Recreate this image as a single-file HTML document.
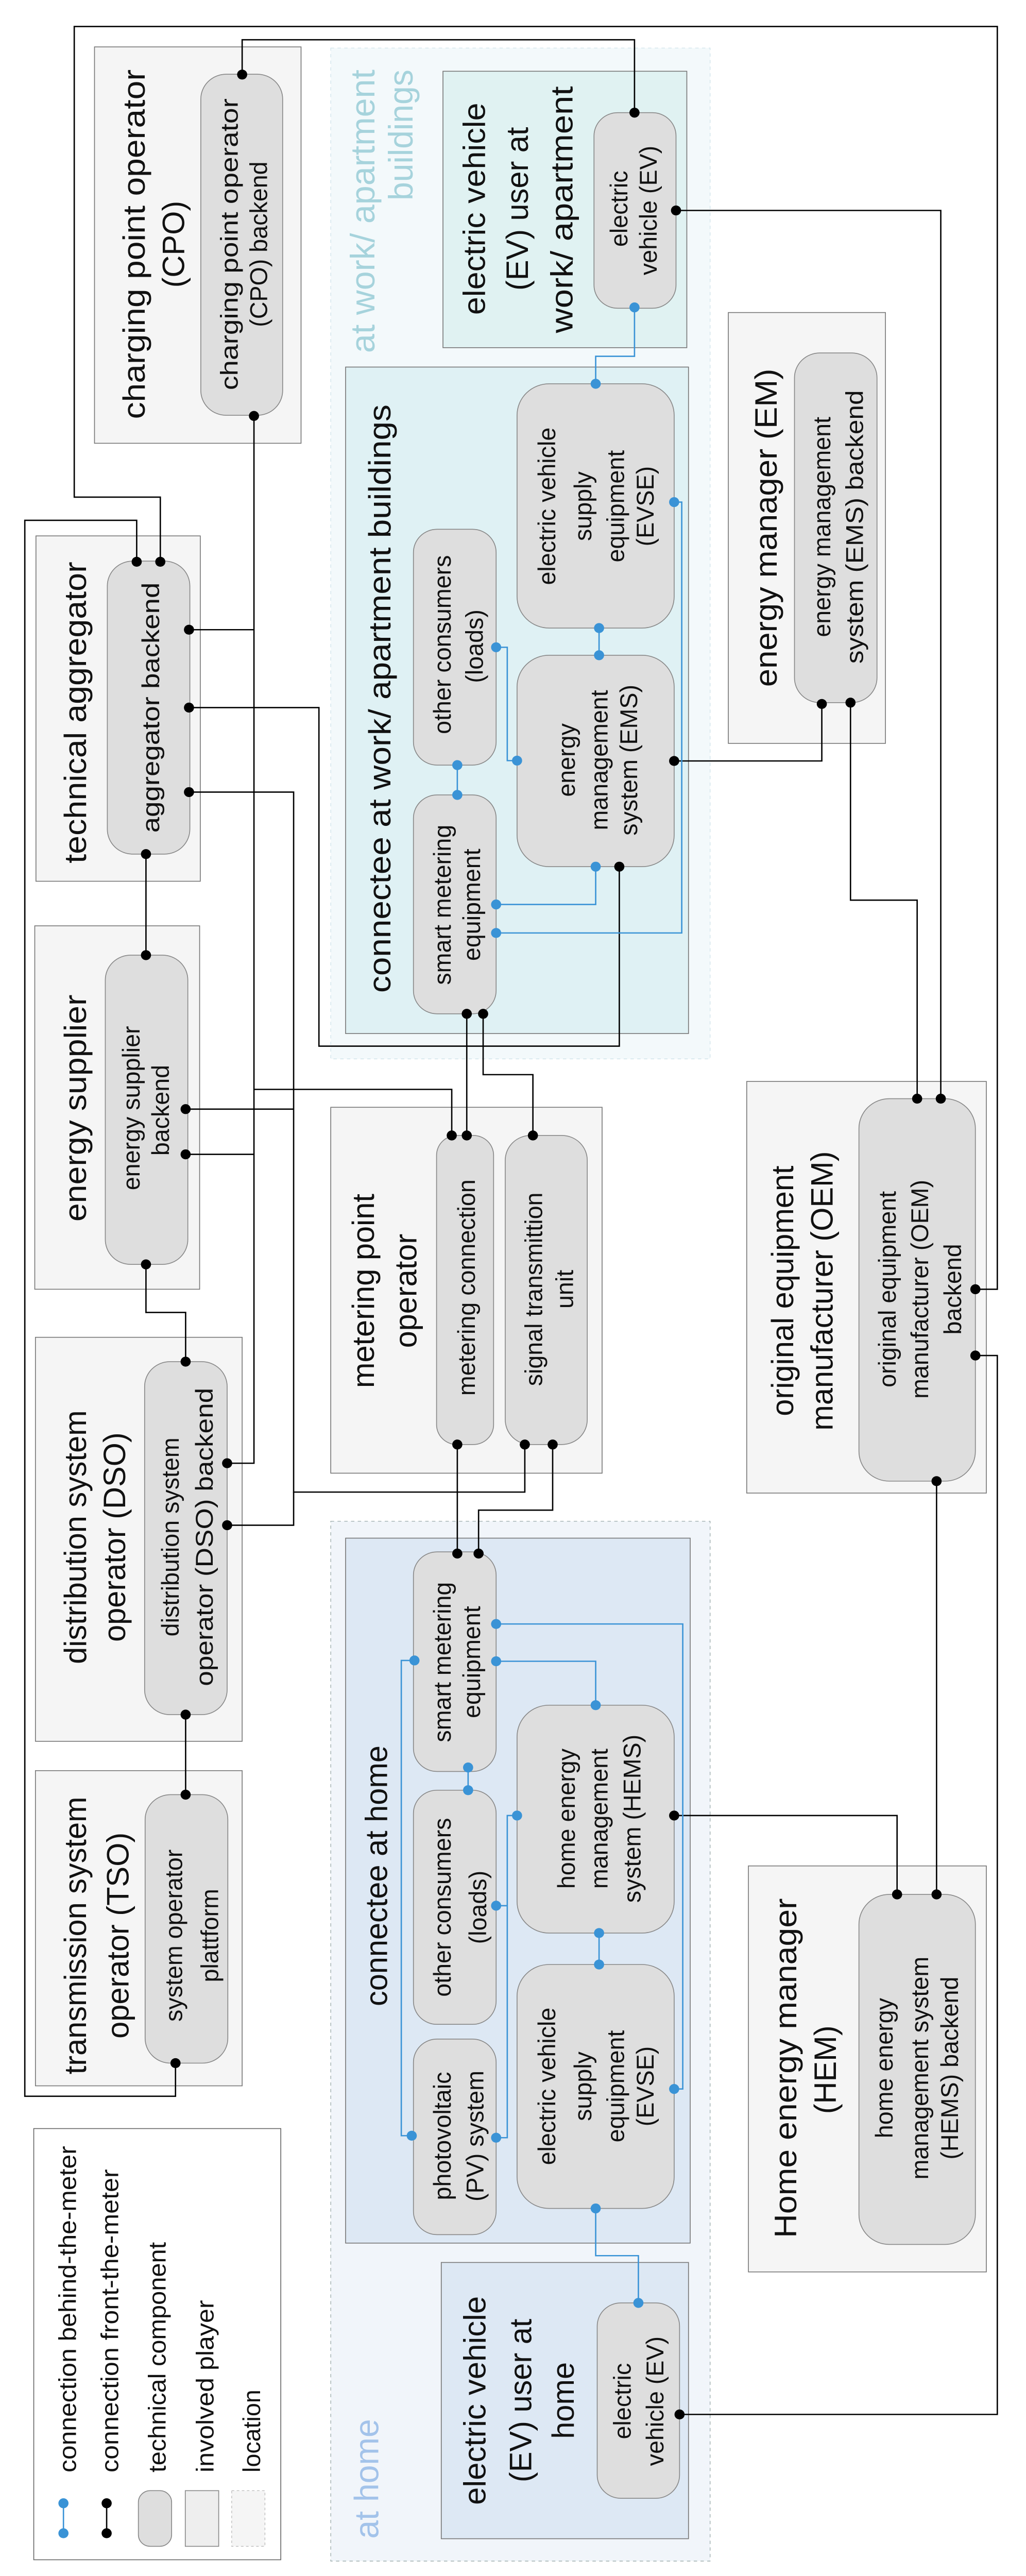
<!DOCTYPE html>
<html><head><meta charset="utf-8">
<style>
html,body{margin:0;padding:0;background:#fff;width:100%;height:100%;overflow:hidden;}
svg{display:block;position:fixed;left:0;top:0;width:100vw;height:100vh;}
text{font-family:"Liberation Sans","DejaVu Sans",sans-serif;fill:#111;}
.p{fill:#f5f5f5;stroke:#777;stroke-width:0.5}
.c{fill:#dedede;stroke:#888;stroke-width:0.5}
.k{stroke:#000;fill:none;stroke-width:0.8}
.b{stroke:#3a93d6;fill:none;stroke-width:0.8}
.kd{fill:#000}
.bd{fill:#3a93d6}
</style></head>
<body>
<svg viewBox="0 0 608 1554.5" preserveAspectRatio="none" xmlns="http://www.w3.org/2000/svg">
<rect x="0" y="0" width="608" height="1554.5" fill="#fff"/>

<rect x="196" y="29" width="224.8" height="610" fill="#f3f9fb" stroke="#cfe3ea" stroke-width="0.4" stroke-dasharray="2,2"/>
<rect x="196" y="918" width="224.8" height="627.5" fill="#f1f5fa" stroke="#9aa" stroke-width="0.4" stroke-dasharray="2,2"/>
<text transform="translate(215,42) rotate(-90)" text-anchor="end" dominant-baseline="central" font-size="20" style="fill:#a6d3dc" textLength="171" lengthAdjust="spacingAndGlyphs">at work/ apartment</text>
<text transform="translate(237.5,42) rotate(-90)" text-anchor="end" dominant-baseline="central" font-size="20" style="fill:#a6d3dc">buildings</text>
<text transform="translate(217.3,1532) rotate(-90)" text-anchor="start" dominant-baseline="central" font-size="20" style="fill:#a3c3ea">at home</text>

<rect class="p" x="56" y="28.3" width="122.4" height="239.2"/>
<rect class="p" x="262.5" y="43" width="144.5" height="166.8" style="fill:#e0f2f2"/>
<rect class="p" x="204.8" y="221.5" width="203.2" height="402.2" style="fill:#dff1f4"/>
<rect class="p" x="431.6" y="188.6" width="93.1" height="260"/>
<rect class="p" x="21.3" y="323.4" width="97.4" height="208.4"/>
<rect class="p" x="20.6" y="558.7" width="97.7" height="219.3"/>
<rect class="p" x="196" y="668.2" width="160.8" height="220.8"/>
<rect class="p" x="442.5" y="652.6" width="142" height="248.4"/>
<rect class="p" x="21" y="807" width="122.5" height="243.8"/>
<rect class="p" x="204.8" y="928.2" width="204.2" height="425.4" style="fill:#dde8f4"/>
<rect class="p" x="21" y="1068.5" width="122.5" height="190.2"/>
<rect class="p" x="443.5" y="1126" width="141" height="245"/>
<rect class="p" x="261.5" y="1365.3" width="146.5" height="166.7" style="fill:#dde8f4"/>
<rect x="20" y="1284.5" width="146.4" height="260.2" fill="#fff" stroke="#666" stroke-width="0.5"/>

<rect class="c" x="119" y="44.8" width="48.5" height="205.8" rx="15"/>
<rect class="c" x="352" y="68" width="48.6" height="118" rx="14"/>
<rect class="c" x="245" y="319.4" width="49" height="142.3" rx="14"/>
<rect class="c" x="245" y="479.7" width="49" height="132.1" rx="14"/>
<rect class="c" x="306.4" y="231.6" width="93.1" height="147.4" rx="19"/>
<rect class="c" x="306.4" y="395.4" width="93.1" height="127.6" rx="19"/>
<rect class="c" x="470.8" y="213" width="48.9" height="211" rx="15"/>
<rect class="c" x="63.6" y="338.6" width="48.9" height="176.8" rx="15"/>
<rect class="c" x="62.4" y="576.4" width="48.9" height="186.6" rx="15"/>
<rect class="c" x="258.7" y="685.2" width="33.8" height="186.5" rx="12"/>
<rect class="c" x="299.4" y="685.2" width="48.6" height="186.5" rx="15"/>
<rect class="c" x="509" y="663" width="69" height="230.8" rx="18"/>
<rect class="c" x="85.7" y="821.7" width="48.9" height="213" rx="15"/>
<rect class="c" x="245" y="936.5" width="49" height="132.5" rx="14"/>
<rect class="c" x="245" y="1080.3" width="49" height="141.3" rx="14"/>
<rect class="c" x="245" y="1230.5" width="49" height="118" rx="14"/>
<rect class="c" x="306.4" y="1029" width="93.1" height="137.5" rx="19"/>
<rect class="c" x="306.4" y="1185.5" width="93.1" height="147.2" rx="19"/>
<rect class="c" x="86" y="1083" width="49" height="162" rx="15"/>
<rect class="c" x="509" y="1143.2" width="69" height="211.2" rx="18"/>
<rect class="c" x="353.9" y="1389.7" width="48.8" height="117.9" rx="14"/>

<g class="k">
<polyline points="95,339 95,300 44,300 44,16 591,16 591,778 578,778"/>
<polyline points="143.5,45 143.5,24 376,24 376,68"/>
<polyline points="578,818 591,818 591,1457 402.7,1457"/>
<polyline points="400.6,127 557.5,127 557.5,663"/>
<polyline points="150.5,251 150.5,883 134.6,883"/>
<polyline points="81,339 81,314 14.7,314 14.7,1265 104,1265 104,1245"/>
<polyline points="112,380 150.5,380"/>
<polyline points="112,427 189,427 189,631.3 367,631.3 367,523"/>
<polyline points="112,478 174,478 174,900.4 311,900.4 311,871.7"/>
<polyline points="134.6,920.4 174,920.4 174,900.4"/>
<polyline points="86.5,515.4 86.5,576.4"/>
<polyline points="487,424.8 487,459.2 399.5,459.2"/>
<polyline points="504,424 504,543.2 543.5,543.2 543.5,663"/>
<polyline points="276.6,611.8 276.6,685.2"/>
<polyline points="286.3,611.8 286.3,648.5 315.8,648.5 315.8,685.2"/>
<polyline points="110,669.3 174,669.3"/>
<polyline points="110,696.6 150.5,696.6"/>
<polyline points="150.5,657.4 267.7,657.4 267.7,685.2"/>
<polyline points="86.5,763 86.5,792 110,792 110,821.7"/>
<polyline points="110,1034.7 110,1083"/>
<polyline points="271,871.7 271,937.5"/>
<polyline points="327.5,871.7 327.5,911.3 283.6,911.3 283.6,937.5"/>
<polyline points="399.5,1095.6 531.6,1095.6 531.6,1143.2"/>
<polyline points="555,893.8 555,1143.2"/>
<polyline points="63.2,1510.6 63.2,1528.7"/>
</g>
<g class="kd">
<circle cx="95" cy="339" r="3"/><circle cx="578" cy="778" r="3"/><circle cx="143.5" cy="45" r="3"/><circle cx="376" cy="68" r="3"/>
<circle cx="578" cy="818" r="3"/><circle cx="402.7" cy="1457" r="3"/><circle cx="400.6" cy="127" r="3"/><circle cx="557.5" cy="663" r="3"/>
<circle cx="150.5" cy="251" r="3"/><circle cx="134.6" cy="883" r="3"/><circle cx="81" cy="339" r="3"/><circle cx="104" cy="1245" r="3"/>
<circle cx="112" cy="380" r="3"/><circle cx="112" cy="427" r="3"/><circle cx="367" cy="523" r="3"/><circle cx="112" cy="478" r="3"/>
<circle cx="311" cy="871.7" r="3"/><circle cx="134.6" cy="920.4" r="3"/><circle cx="86.5" cy="515.4" r="3"/><circle cx="86.5" cy="576.4" r="3"/>
<circle cx="487" cy="424.8" r="3"/><circle cx="399.5" cy="459.2" r="3"/><circle cx="504" cy="424" r="3"/><circle cx="543.5" cy="663" r="3"/>
<circle cx="276.6" cy="611.8" r="3"/><circle cx="276.6" cy="685.2" r="3"/><circle cx="286.3" cy="611.8" r="3"/><circle cx="315.8" cy="685.2" r="3"/>
<circle cx="110" cy="669.3" r="3"/><circle cx="110" cy="696.6" r="3"/><circle cx="267.7" cy="685.2" r="3"/><circle cx="86.5" cy="763" r="3"/>
<circle cx="110" cy="821.7" r="3"/><circle cx="110" cy="1034.7" r="3"/><circle cx="110" cy="1083" r="3"/><circle cx="271" cy="871.7" r="3"/>
<circle cx="271" cy="937.5" r="3"/><circle cx="327.5" cy="871.7" r="3"/><circle cx="283.6" cy="937.5" r="3"/><circle cx="399.5" cy="1095.6" r="3"/>
<circle cx="531.6" cy="1143.2" r="3"/><circle cx="555" cy="893.8" r="3"/><circle cx="555" cy="1143.2" r="3"/>
<circle cx="63.2" cy="1510.6" r="3"/><circle cx="63.2" cy="1528.7" r="3"/>
</g>

<g class="b">
<polyline points="376,185.5 376,215 353,215 353,231.6"/>
<polyline points="355,379 355,395.4"/>
<polyline points="399.5,303 404,303 404,563 294,563"/>
<polyline points="294,390.6 300.6,390.6 300.6,459 306.4,459"/>
<polyline points="271,461.7 271,479.7"/>
<polyline points="353,523 353,545.8 294,545.8"/>
<polyline points="245.6,1002 237.8,1002 237.8,1288.8 244,1288.8"/>
<polyline points="294,980 404.6,980 404.6,1260.6 399.5,1260.6"/>
<polyline points="294,1002.5 353,1002.5 353,1029"/>
<polyline points="277.4,1066.6 277.4,1080.3"/>
<polyline points="294,1150 300.6,1150"/>
<polyline points="306.4,1095.6 300.6,1095.6 300.6,1290 294,1290"/>
<polyline points="355,1166.5 355,1185.5"/>
<polyline points="353,1332.7 353,1361.2 378.3,1361.2 378.3,1389.7"/>
<polyline points="37.6,1510.6 37.6,1528.7"/>
</g>
<g class="bd">
<circle cx="376" cy="185.5" r="3"/><circle cx="353" cy="231.6" r="3"/><circle cx="355" cy="379" r="3"/><circle cx="355" cy="395.4" r="3"/>
<circle cx="399.5" cy="303" r="3"/><circle cx="294" cy="563" r="3"/><circle cx="294" cy="390.6" r="3"/><circle cx="306.4" cy="459" r="3"/>
<circle cx="271" cy="461.7" r="3"/><circle cx="271" cy="479.7" r="3"/><circle cx="353" cy="523" r="3"/><circle cx="294" cy="545.8" r="3"/>
<circle cx="245.6" cy="1002" r="3"/><circle cx="244" cy="1288.8" r="3"/><circle cx="294" cy="980" r="3"/><circle cx="399.5" cy="1260.6" r="3"/>
<circle cx="294" cy="1002.5" r="3"/><circle cx="353" cy="1029" r="3"/><circle cx="277.4" cy="1066.6" r="3"/><circle cx="277.4" cy="1080.3" r="3"/>
<circle cx="294" cy="1150" r="3"/><circle cx="306.4" cy="1095.6" r="3"/><circle cx="294" cy="1290" r="3"/>
<circle cx="355" cy="1166.5" r="3"/><circle cx="355" cy="1185.5" r="3"/><circle cx="353" cy="1332.7" r="3"/><circle cx="378.3" cy="1389.7" r="3"/>
<circle cx="37.6" cy="1510.6" r="3"/><circle cx="37.6" cy="1528.7" r="3"/>
</g>

<rect x="82" y="1503" width="19.7" height="33.6" rx="7" fill="#dedede" stroke="#888" stroke-width="0.5"/>
<rect x="109.8" y="1503" width="19.8" height="33.6" fill="#eeeeee" stroke="#888" stroke-width="0.5"/>
<rect x="137.3" y="1503" width="19.7" height="33.6" fill="#f5f5f5" stroke="#bbb" stroke-width="0.4" stroke-dasharray="1.5,1.5"/>

<g dominant-baseline="central" text-anchor="middle">
<g font-size="18.5">
<text transform="translate(79.5,147.4) rotate(-90)" textLength="211" lengthAdjust="spacingAndGlyphs">charging point operator</text>
<text transform="translate(102.8,147.4) rotate(-90)">(CPO)</text>
<text transform="translate(281,126) rotate(-90)" textLength="128" lengthAdjust="spacingAndGlyphs">electric vehicle</text>
<text transform="translate(306.5,126) rotate(-90)">(EV) user at</text>
<text transform="translate(333,126.5) rotate(-90)" textLength="149" lengthAdjust="spacingAndGlyphs">work/ apartment</text>
<text transform="translate(225,421.6) rotate(-90)" textLength="355" lengthAdjust="spacingAndGlyphs">connectee at work/ apartment buildings</text>
<text transform="translate(454,318.5) rotate(-90)" textLength="192" lengthAdjust="spacingAndGlyphs">energy manager (EM)</text>
<text transform="translate(44.6,430) rotate(-90)" textLength="182" lengthAdjust="spacingAndGlyphs">technical aggregator</text>
<text transform="translate(44.6,668.7) rotate(-90)" textLength="137" lengthAdjust="spacingAndGlyphs">energy supplier</text>
<text transform="translate(215.3,779) rotate(-90)">metering point</text>
<text transform="translate(240.5,779) rotate(-90)">operator</text>
<text transform="translate(463.7,779) rotate(-90)">original equipment</text>
<text transform="translate(487,779) rotate(-90)">manufacturer (OEM)</text>
<text transform="translate(44.6,927.6) rotate(-90)">distribution system</text>
<text transform="translate(67.9,927.6) rotate(-90)">operator (DSO)</text>
<text transform="translate(44.6,1168) rotate(-90)">transmission system</text>
<text transform="translate(69.8,1168) rotate(-90)">operator (TSO)</text>
<text transform="translate(223,1132) rotate(-90)">connectee at home</text>
<text transform="translate(465.6,1248) rotate(-90)" textLength="205" lengthAdjust="spacingAndGlyphs">Home energy manager</text>
<text transform="translate(489,1249) rotate(-90)">(HEM)</text>
<text transform="translate(281.3,1448.6) rotate(-90)" textLength="126" lengthAdjust="spacingAndGlyphs">electric vehicle</text>
<text transform="translate(308.5,1448.6) rotate(-90)">(EV) user at</text>
<text transform="translate(333.7,1448.6) rotate(-90)">home</text>
</g>
<g font-size="14.5">
<text transform="translate(135.8,147.4) rotate(-90)" textLength="176" lengthAdjust="spacingAndGlyphs">charging point operator</text>
<text transform="translate(153.2,147.4) rotate(-90)">(CPO) backend</text>
<text transform="translate(366.7,126) rotate(-90)">electric</text>
<text transform="translate(384,127) rotate(-90)">vehicle (EV)</text>
<text transform="translate(262,389) rotate(-90)">other consumers</text>
<text transform="translate(281,390) rotate(-90)">(loads)</text>
<text transform="translate(262,546) rotate(-90)">smart metering</text>
<text transform="translate(279.4,546) rotate(-90)">equipment</text>
<text transform="translate(324,305.5) rotate(-90)">electric vehicle</text>
<text transform="translate(345.3,305.5) rotate(-90)">supply</text>
<text transform="translate(364.7,305.5) rotate(-90)">equipment</text>
<text transform="translate(382.2,305.5) rotate(-90)">(EVSE)</text>
<text transform="translate(335.6,458.7) rotate(-90)">energy</text>
<text transform="translate(355,458.7) rotate(-90)">management</text>
<text transform="translate(372.5,458.7) rotate(-90)">system (EMS)</text>
<text transform="translate(487,318) rotate(-90)">energy management</text>
<text transform="translate(506.3,318) rotate(-90)" textLength="165" lengthAdjust="spacingAndGlyphs">system (EMS) backend</text>
<text transform="translate(89.2,427) rotate(-90)" textLength="151" lengthAdjust="spacingAndGlyphs">aggregator backend</text>
<text transform="translate(77.6,668.7) rotate(-90)">energy supplier</text>
<text transform="translate(95,670) rotate(-90)">backend</text>
<text transform="translate(276.3,777) rotate(-90)">metering connection</text>
<text transform="translate(316.2,778) rotate(-90)">signal transmittion</text>
<text transform="translate(334.5,778) rotate(-90)">unit</text>
<text transform="translate(525.7,778) rotate(-90)">original equipment</text>
<text transform="translate(545,778) rotate(-90)">manufacturer (OEM)</text>
<text transform="translate(564.5,778) rotate(-90)">backend</text>
<text transform="translate(100.9,927.5) rotate(-90)">distribution system</text>
<text transform="translate(121,927.5) rotate(-90)" textLength="180" lengthAdjust="spacingAndGlyphs">operator (DSO) backend</text>
<text transform="translate(102.8,1168) rotate(-90)">system operator</text>
<text transform="translate(124.2,1168) rotate(-90)">plattform</text>
<text transform="translate(262,1003) rotate(-90)">smart metering</text>
<text transform="translate(279.4,1003) rotate(-90)">equipment</text>
<text transform="translate(262,1151) rotate(-90)">other consumers</text>
<text transform="translate(283,1151) rotate(-90)">(loads)</text>
<text transform="translate(262,1289) rotate(-90)">photovoltaic</text>
<text transform="translate(281.3,1289) rotate(-90)">(PV) system</text>
<text transform="translate(335.6,1097.5) rotate(-90)">home energy</text>
<text transform="translate(355,1097.5) rotate(-90)">management</text>
<text transform="translate(374.4,1097.5) rotate(-90)">system (HEMS)</text>
<text transform="translate(324,1259) rotate(-90)">electric vehicle</text>
<text transform="translate(345.3,1259) rotate(-90)">supply</text>
<text transform="translate(364.7,1259) rotate(-90)">equipment</text>
<text transform="translate(382.2,1259) rotate(-90)">(EVSE)</text>
<text transform="translate(523.8,1248) rotate(-90)">home energy</text>
<text transform="translate(545,1248) rotate(-90)">management system</text>
<text transform="translate(562.6,1248) rotate(-90)">(HEMS) backend</text>
<text transform="translate(368.6,1449) rotate(-90)">electric</text>
<text transform="translate(388,1449) rotate(-90)">vehicle (EV)</text>
</g>
</g>
<g font-size="14.5" dominant-baseline="central" text-anchor="start">
<text transform="translate(40,1492) rotate(-90)" textLength="197" lengthAdjust="spacingAndGlyphs">connection behind-the-meter</text>
<text transform="translate(65,1492) rotate(-90)" textLength="183" lengthAdjust="spacingAndGlyphs">connection front-the-meter</text>
<text transform="translate(93,1492) rotate(-90)" textLength="139" lengthAdjust="spacingAndGlyphs">technical component</text>
<text transform="translate(121.4,1492) rotate(-90)" textLength="104" lengthAdjust="spacingAndGlyphs">involved player</text>
<text transform="translate(149,1492) rotate(-90)">location</text>
</g>
</svg>
</body></html>
